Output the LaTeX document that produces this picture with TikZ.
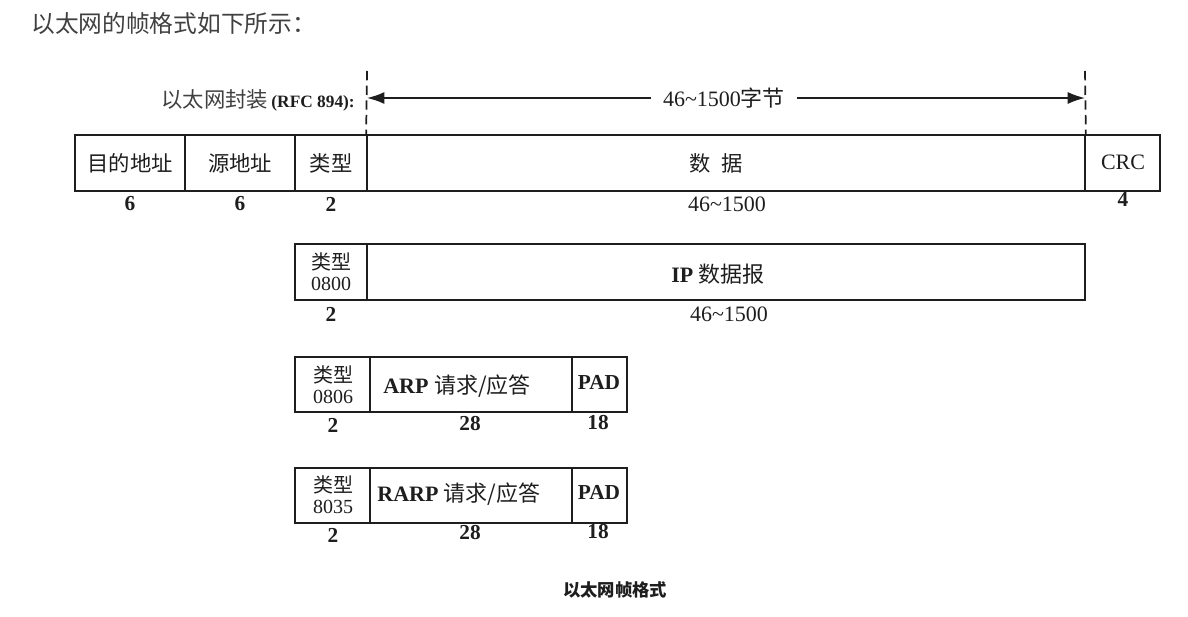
\documentclass[tikz,border=0pt]{standalone}
\usepackage{fontspec}
\setmainfont{Liberation Serif}
\newfontfamily\cjk{Noto Sans CJK SC}
\usetikzlibrary{arrows.meta}
\definecolor{ink}{HTML}{1E1E1E}
\definecolor{tgray}{HTML}{404040}
\newcommand\fieldbox[5]{\node[fld, minimum width={(#3-#2)*0.75pt}, minimum height={(#5-#4)*0.75pt}] (#1) at ({(#2+#3)/2},{(#4+#5)/2}) {};}
\begin{document}
\begin{tikzpicture}[x=0.75pt,y=-0.75pt,
  fld/.style={draw=ink, line width=1.3pt, inner sep=0pt},
  txt/.style={inner sep=0pt, text=ink, font=\fontsize{16.5}{18}\selectfont},
  num/.style={inner sep=0pt, text=ink, font=\fontsize{16}{18}\selectfont\bfseries},
  stk/.style={inner sep=0pt, text=ink, align=center, font=\fontsize{15}{15.5}\selectfont},
  dline/.style={draw=ink, line width=1.3pt, dash pattern=on 7pt off 4pt},
  dimarrow/.style={draw=ink, line width=1.2pt, {Latex[length=13pt,width=9pt]}-{Latex[length=13pt,width=9pt]}}]
\useasboundingbox (0,0) rectangle (1188,617);

% title
\node[anchor=west, inner sep=0pt, text=tgray, font=\cjk\fontsize{17.8}{20}\selectfont] (title) at (31,24) {以太网的帧格式如下所示：};

% row 1
\fieldbox{dst}{75}{185}{135}{191}
\fieldbox{src}{185}{295}{135}{191}
\fieldbox{typ}{295}{367}{135}{191}
\fieldbox{data}{367}{1085}{135}{191}
\fieldbox{crc}{1085}{1160}{135}{191}
\node[txt, font=\cjk\fontsize{16}{18}\selectfont] (tdst) at (130,163) {目的地址};
\node[txt, font=\cjk\fontsize{16}{18}\selectfont] (tsrc) at (240,163) {源地址};
\node[txt, font=\cjk\fontsize{16}{18}\selectfont] (ttyp) at (331,163) {类型};
\node[txt, font=\cjk\fontsize{16}{18}\selectfont] (tdata) at (716,163) {数\hspace{0.5em}据};
\node[txt] (tcrc) at (1123,162) {CRC};
\node[num] (n1) at (130,204) {6};
\node[num] (n2) at (240,204) {6};
\node[num] (n3) at (331,204) {2};
\node[txt] (n4) at (727,204) {46\textasciitilde1500};
\node[num] (n5) at (1123,199) {4};

% encapsulation label, dashed lines and arrow
\node[anchor=east, inner sep=0pt, text=tgray] (enc) at (355,100) {{\cjk\fontsize{16}{18}\selectfont 以太网封装} {\bfseries\fontsize{13}{15}\selectfont\color{ink}(RFC 894):}};
\coordinate (dl) at (367,71);
\coordinate (dr) at (1085,71);
\draw[dline] (dl) -- (data.north west);
\draw[dline] (dr) -- (data.north east);
\coordinate (al) at (367,98);
\coordinate (ar) at (1085,98);
\draw[dimarrow] (al) -- (ar);
\node[txt, fill=white, inner xsep=9pt, inner ysep=3pt] (alab) at (724,98) {46\textasciitilde1500{\cjk 字节}};

% row 2
\fieldbox{typ2}{295}{367}{244}{300}
\fieldbox{ip}{367}{1085}{244}{300}
\node[stk] (ttyp2) at (331,272) {{\cjk 类型}\\0800};
\node[txt] (tip) at (718,274) {\textbf{IP} {\cjk 数据报}};
\node[num] (m1) at (331,314) {2};
\node[txt] (m2) at (729,314) {46\textasciitilde1500};

% row 3
\fieldbox{typ3}{295}{370}{357}{412}
\fieldbox{arp}{370}{572}{357}{412}
\fieldbox{pad3}{572}{627}{357}{412}
\node[stk] (ttyp3) at (333,385) {{\cjk 类型}\\0806};
\node[txt] (tarp) at (457,386) {\textbf{ARP} {\cjk 请求/应答}};
\node[num] (tpad3) at (599,382) {PAD};
\node[num] (k1) at (333,425) {2};
\node[num] (k2) at (470,424) {28};
\node[num] (k3) at (598,423) {18};

% row 4
\fieldbox{typ4}{295}{370}{468}{523}
\fieldbox{rarp}{370}{572}{468}{523}
\fieldbox{pad4}{572}{627}{468}{523}
\node[stk] (ttyp4) at (333,495) {{\cjk 类型}\\8035};
\node[txt] (trarp) at (459,494) {\textbf{RARP} {\cjk 请求/应答}};
\node[num] (tpad4) at (599,492) {PAD};
\node[num] (j1) at (333,535) {2};
\node[num] (j2) at (470,533) {28};
\node[num] (j3) at (598,532) {18};

% caption
\node[inner sep=0pt, text=ink, font=\cjk\bfseries\fontsize{13}{15}\selectfont] (cap) at (615,590) {以太网帧格式};
\end{tikzpicture}
\end{document}
